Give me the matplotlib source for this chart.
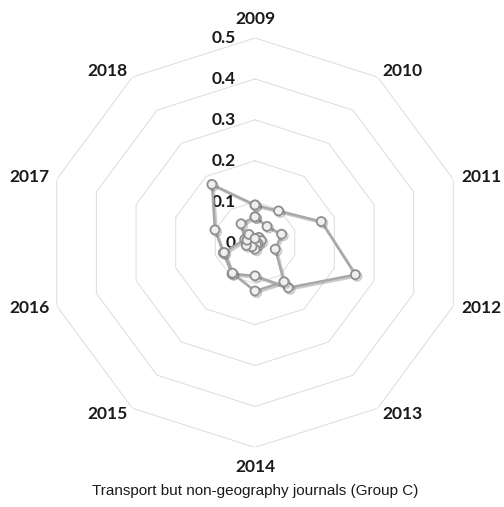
import numpy as np
import matplotlib
matplotlib.use('Agg')
import matplotlib.pyplot as plt
import matplotlib.patheffects as pe

# years around the radar, clockwise from the top
years = ['2009', '2010', '2011', '2012', '2013', '2014', '2015', '2016', '2017', '2018']

# one gray line per journal
journal_a = [0.092, 0.096, 0.167, 0.253, 0.136, 0.081, 0.094, 0.080, 0.101, 0.176]
journal_b = [0.063, 0.049, 0.067, 0.051, 0.118, 0.118, 0.092, 0.078, 0.026, 0.057]
journal_c = [0.010, 0.016, 0.016, 0.008, 0.006, 0.016, 0.012, 0.022, 0.020, 0.025]

ring_values = [0.1, 0.2, 0.3, 0.4, 0.5]
ring_labels = ['0', '0.1', '0.2', '0.3', '0.4', '0.5']

title = 'Transport but non-geography journals (Group C)'

fig = plt.figure(figsize=(5.04, 5.07), dpi=100)
ax = fig.add_axes([0.0923, 0.1176, 0.8274, 0.8075], projection='polar')
ax.set_aspect('auto')
ax.set_theta_zero_location('N')
ax.set_theta_direction(-1)
ax.set_ylim(0, 0.5)
ax.grid(False)
ax.spines['polar'].set_visible(False)
ax.set_xticks([])
ax.set_yticks([])
ax.patch.set_alpha(0)

angles = np.linspace(0, 2 * np.pi, len(years), endpoint=False)
closed = np.append(angles, angles[0])

# decagon rings
for r in ring_values:
    ax.plot(closed, [r] * len(closed), color='#dedede', lw=0.75, zorder=1)

# radial value labels on the left of the vertical axis
for r, lab in zip([0.0] + ring_values, ring_labels):
    ax.annotate(lab, xy=(0, r), xytext=(-14, 0), textcoords='offset points',
                ha='right', va='center', fontsize=12.5, fontweight='bold',
                family='Lato', color='#1a1a1a', annotation_clip=False)

# year labels outside the outer ring (offsets in pixels, Excel-like placement)
px = 72 / fig.dpi
for ang, yr in zip(angles, years):
    s, c = np.sin(ang), np.cos(ang)
    ox = 28 * np.sign(s) * abs(s) ** 0.2
    oy = np.sign(c) * (2.5 + 16.8 * abs(c) ** 8)
    ax.annotate(yr, xy=(ang, 0.5), xytext=(ox * px, oy * px),
                textcoords='offset points', ha='center', va='center',
                fontsize=12.5, fontweight='bold', family='Lato',
                color='#1a1a1a', annotation_clip=False)

shadow = [pe.SimpleLineShadow(offset=(1.2, -1.2), shadow_color='#555555', alpha=0.3),
          pe.Normal()]

for vals in [journal_a, journal_b, journal_c]:
    v = np.append(vals, vals[0])
    ax.plot(closed, v, color='#a8a8a8', lw=1.8, marker='o', markersize=6.5,
            markerfacecolor='#efefef', markeredgecolor='#8f8f8f',
            markeredgewidth=1.3, zorder=3, path_effects=shadow)

fig.text(0.506, 0.031, title, ha='center', va='center', fontsize=11,
         family='Liberation Sans', color='#1a1a1a')

fig.savefig('out.png', dpi=100)
